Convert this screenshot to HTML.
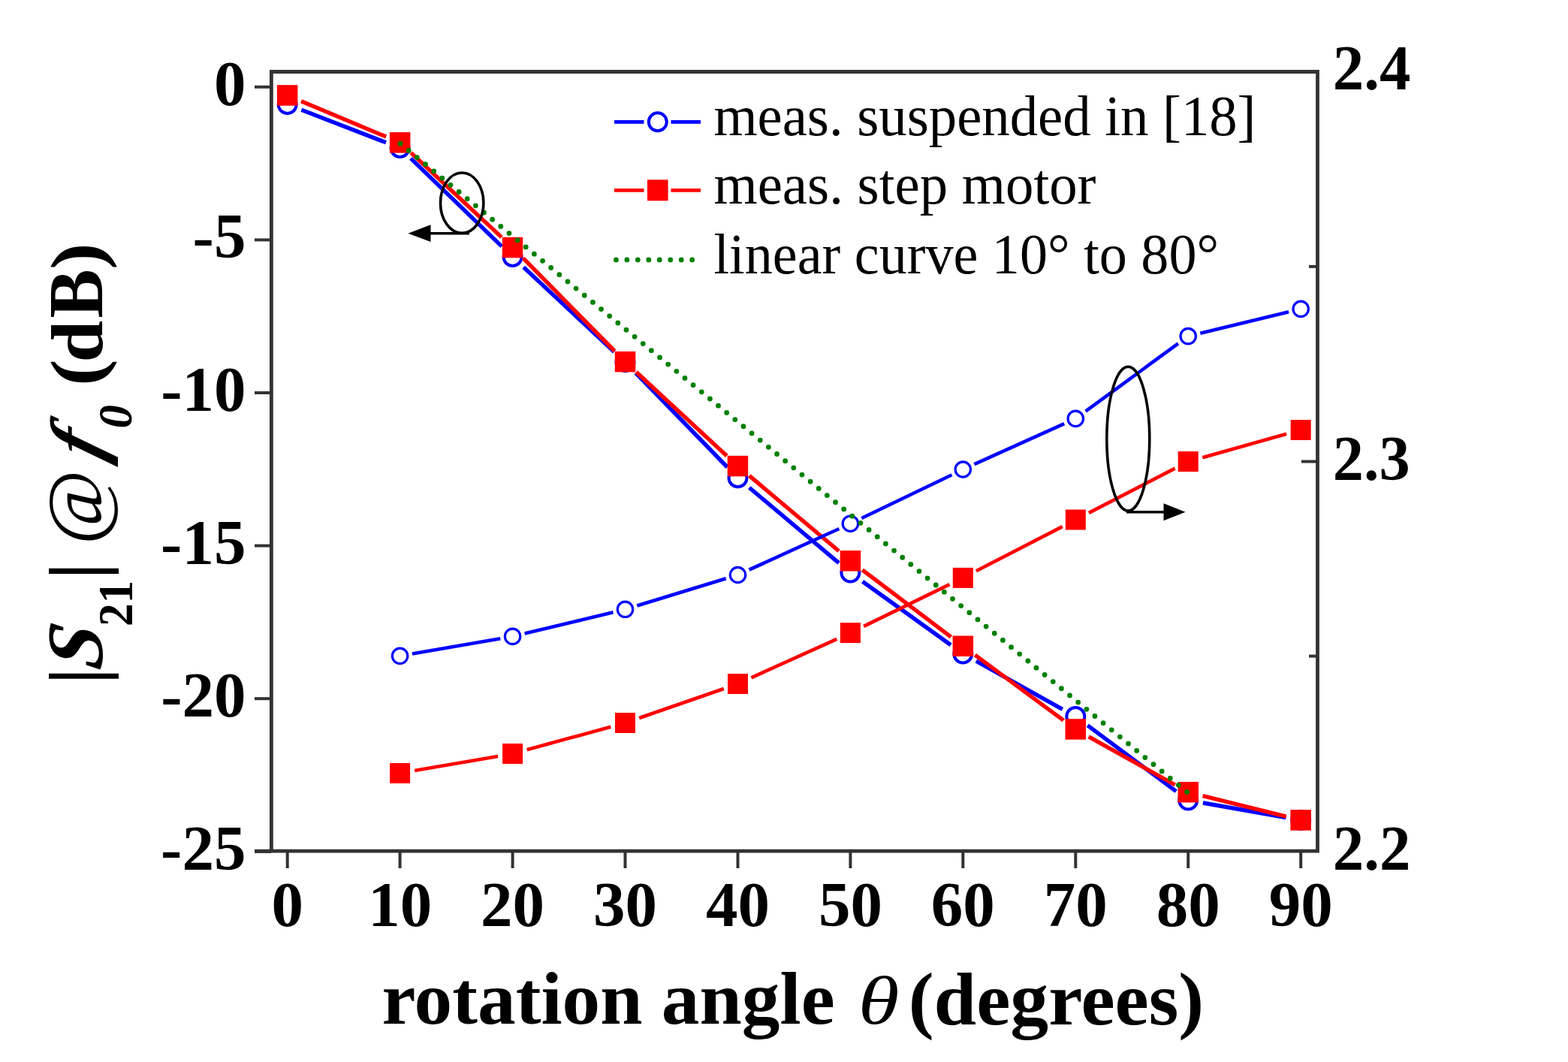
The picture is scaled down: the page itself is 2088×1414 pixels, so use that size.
<!DOCTYPE html>
<html><head><meta charset="utf-8"><title>S21 and f0 versus rotation angle</title><style>
html,body{margin:0;padding:0;background:#fff;overflow:hidden;}
svg{display:block;}
</style></head><body>
<svg width="2088" height="1414" viewBox="0 0 2088 1414">
<rect width="2088" height="1414" fill="#fff"/>
<path d="M401.4 146.2L514.0 189.8 M547.0 210.9L668.2 328.1 M697.2 355.7L817.9 468.5 M846.5 496.5L968.5 622.0 M997.8 649.2L1117.1 749.6 M1148.6 774.2L1266.1 858.8 M1299.8 880.2L1414.8 944.3 M1448.3 965.9L1566.2 1053.6 M1601.9 1069.0L1712.5 1088.5" stroke="#0000ff" stroke-width="5.4" fill="none"/>
<circle cx="382.7" cy="139.0" r="12" fill="#fff" stroke="#0000ff" stroke-width="4"/>
<circle cx="532.6" cy="197.0" r="12" fill="#fff" stroke="#0000ff" stroke-width="4"/>
<circle cx="682.6" cy="342.0" r="12" fill="#fff" stroke="#0000ff" stroke-width="4"/>
<circle cx="832.5" cy="482.2" r="12" fill="#fff" stroke="#0000ff" stroke-width="4"/>
<circle cx="982.5" cy="636.3" r="12" fill="#fff" stroke="#0000ff" stroke-width="4"/>
<circle cx="1132.4" cy="762.5" r="12" fill="#fff" stroke="#0000ff" stroke-width="4"/>
<circle cx="1282.3" cy="870.5" r="12" fill="#fff" stroke="#0000ff" stroke-width="4"/>
<circle cx="1432.3" cy="954.0" r="12" fill="#fff" stroke="#0000ff" stroke-width="4"/>
<circle cx="1582.2" cy="1065.5" r="12" fill="#fff" stroke="#0000ff" stroke-width="4"/>
<circle cx="1732.2" cy="1092.0" r="12" fill="#fff" stroke="#0000ff" stroke-width="4"/>
<path d="M401.1 134.7L514.2 182.1 M547.3 203.4L667.9 315.9 M696.6 343.7L818.5 467.5 M847.2 495.3L967.8 606.9 M997.8 633.4L1117.1 733.8 M1148.3 758.8L1266.4 848.1 M1298.4 872.1L1416.2 959.1 M1449.7 980.8L1564.8 1045.0 M1601.6 1059.6L1712.7 1087.2" stroke="#ff0000" stroke-width="5.4" fill="none"/>
<rect x="368.9" y="113.2" width="27.5" height="27.5" fill="#ff0000"/>
<rect x="518.9" y="176.1" width="27.5" height="27.5" fill="#ff0000"/>
<rect x="668.8" y="315.8" width="27.5" height="27.5" fill="#ff0000"/>
<rect x="818.8" y="467.9" width="27.5" height="27.5" fill="#ff0000"/>
<rect x="968.7" y="606.8" width="27.5" height="27.5" fill="#ff0000"/>
<rect x="1118.7" y="733.0" width="27.5" height="27.5" fill="#ff0000"/>
<rect x="1268.6" y="846.5" width="27.5" height="27.5" fill="#ff0000"/>
<rect x="1418.5" y="957.2" width="27.5" height="27.5" fill="#ff0000"/>
<rect x="1568.5" y="1041.0" width="27.5" height="27.5" fill="#ff0000"/>
<rect x="1718.4" y="1078.2" width="27.5" height="27.5" fill="#ff0000"/>
<path d="M548.9 870.5L666.3 850.2 M698.6 843.5L816.5 815.2 M848.3 806.5L966.7 770.3 M997.5 758.7L1117.4 704.0 M1147.3 690.0L1267.5 632.2 M1297.4 618.2L1417.2 564.2 M1445.6 547.7L1568.9 457.3 M1598.3 443.7L1716.1 415.2" stroke="#0000ff" stroke-width="4.6" fill="none"/>
<circle cx="532.6" cy="873.3" r="10.2" fill="#fff" stroke="#0000ff" stroke-width="3.2"/>
<circle cx="682.6" cy="847.4" r="10.2" fill="#fff" stroke="#0000ff" stroke-width="3.2"/>
<circle cx="832.5" cy="811.3" r="10.2" fill="#fff" stroke="#0000ff" stroke-width="3.2"/>
<circle cx="982.5" cy="765.5" r="10.2" fill="#fff" stroke="#0000ff" stroke-width="3.2"/>
<circle cx="1132.4" cy="697.2" r="10.2" fill="#fff" stroke="#0000ff" stroke-width="3.2"/>
<circle cx="1282.3" cy="625.0" r="10.2" fill="#fff" stroke="#0000ff" stroke-width="3.2"/>
<circle cx="1432.3" cy="557.4" r="10.2" fill="#fff" stroke="#0000ff" stroke-width="3.2"/>
<circle cx="1582.2" cy="447.6" r="10.2" fill="#fff" stroke="#0000ff" stroke-width="3.2"/>
<circle cx="1732.2" cy="411.3" r="10.2" fill="#fff" stroke="#0000ff" stroke-width="3.2"/>
<path d="M552.1 1026.1L663.1 1006.9 M701.7 998.3L813.4 967.7 M851.2 956.0L963.8 917.0 M1000.5 902.3L1114.4 850.8 M1150.2 833.9L1264.5 778.1 M1299.9 760.3L1414.7 701.1 M1449.9 682.9L1564.6 623.6 M1601.3 609.2L1713.1 577.8" stroke="#ff0000" stroke-width="4.6" fill="none"/>
<rect x="519.1" y="1016.0" width="27" height="27" fill="#ff0000"/>
<rect x="669.1" y="990.0" width="27" height="27" fill="#ff0000"/>
<rect x="819.0" y="949.0" width="27" height="27" fill="#ff0000"/>
<rect x="969.0" y="897.0" width="27" height="27" fill="#ff0000"/>
<rect x="1118.9" y="829.1" width="27" height="27" fill="#ff0000"/>
<rect x="1268.8" y="755.9" width="27" height="27" fill="#ff0000"/>
<rect x="1418.8" y="678.5" width="27" height="27" fill="#ff0000"/>
<rect x="1568.7" y="601.0" width="27" height="27" fill="#ff0000"/>
<rect x="1718.7" y="559.0" width="27" height="27" fill="#ff0000"/>
<path d="M533.1 191.2L1581.5 1055.3" stroke="#008000" stroke-width="6.8" stroke-linecap="round" stroke-dasharray="0 14.44" fill="none"/>
<g stroke="#333" stroke-width="4.8" fill="none"><path d="M361.4 95.5H1754.5V1133.2H361.4Z"/><path d="M339 1133.2H361"/></g><g stroke="#333" stroke-width="4"><path d="M339 115.8H361"/><path d="M339 319.4H361"/><path d="M339 523.0H361"/><path d="M339 726.6H361"/><path d="M339 930.2H361"/><path d="M339 1133.8H361"/><path d="M382.7 1133V1156"/><path d="M532.6 1133V1156"/><path d="M682.6 1133V1156"/><path d="M832.5 1133V1156"/><path d="M982.5 1133V1156"/><path d="M1132.4 1133V1156"/><path d="M1282.3 1133V1156"/><path d="M1432.3 1133V1156"/><path d="M1582.2 1133V1156"/><path d="M1732.2 1133V1156"/><path d="M1733 614.5H1754.5"/><path d="M1743 354.9H1754.5"/><path d="M1743 873.6H1754.5"/></g>
<text font-family="Liberation Serif, Times New Roman, serif" font-size="85" font-weight="bold" fill="#000" transform="matrix(1.0000,0.0000,0.0000,1.0000,285.0373,139.8000)">0</text>
<text font-family="Liberation Serif, Times New Roman, serif" font-size="85" font-weight="bold" fill="#000" transform="matrix(1.0000,0.0000,0.0000,1.0000,256.6071,343.4000)">-5</text>
<text font-family="Liberation Serif, Times New Roman, serif" font-size="85" font-weight="bold" fill="#000" transform="matrix(1.0000,0.0000,0.0000,1.0000,214.2316,547.0000)">-10</text>
<text font-family="Liberation Serif, Times New Roman, serif" font-size="85" font-weight="bold" fill="#000" transform="matrix(1.0000,0.0000,0.0000,1.0000,214.1071,750.6000)">-15</text>
<text font-family="Liberation Serif, Times New Roman, serif" font-size="85" font-weight="bold" fill="#000" transform="matrix(1.0000,0.0000,0.0000,1.0000,214.2316,954.2000)">-20</text>
<text font-family="Liberation Serif, Times New Roman, serif" font-size="85" font-weight="bold" fill="#000" transform="matrix(1.0000,0.0000,0.0000,1.0000,214.1071,1157.8000)">-25</text>
<text font-family="Liberation Serif, Times New Roman, serif" font-size="85" font-weight="bold" fill="#000" transform="matrix(1.0000,0.0000,0.0000,1.0000,361.4500,1232.6000)">0</text>
<text font-family="Liberation Serif, Times New Roman, serif" font-size="85" font-weight="bold" fill="#000" transform="matrix(1.0000,0.0000,0.0000,1.0000,490.1400,1232.6000)">10</text>
<text font-family="Liberation Serif, Times New Roman, serif" font-size="85" font-weight="bold" fill="#000" transform="matrix(1.0000,0.0000,0.0000,1.0000,640.0800,1232.6000)">20</text>
<text font-family="Liberation Serif, Times New Roman, serif" font-size="85" font-weight="bold" fill="#000" transform="matrix(1.0000,0.0000,0.0000,1.0000,790.0200,1232.6000)">30</text>
<text font-family="Liberation Serif, Times New Roman, serif" font-size="85" font-weight="bold" fill="#000" transform="matrix(1.0000,0.0000,0.0000,1.0000,939.9600,1232.6000)">40</text>
<text font-family="Liberation Serif, Times New Roman, serif" font-size="85" font-weight="bold" fill="#000" transform="matrix(1.0000,0.0000,0.0000,1.0000,1089.9000,1232.6000)">50</text>
<text font-family="Liberation Serif, Times New Roman, serif" font-size="85" font-weight="bold" fill="#000" transform="matrix(1.0000,0.0000,0.0000,1.0000,1239.8400,1232.6000)">60</text>
<text font-family="Liberation Serif, Times New Roman, serif" font-size="85" font-weight="bold" fill="#000" transform="matrix(1.0000,0.0000,0.0000,1.0000,1389.7800,1232.6000)">70</text>
<text font-family="Liberation Serif, Times New Roman, serif" font-size="85" font-weight="bold" fill="#000" transform="matrix(1.0000,0.0000,0.0000,1.0000,1539.7200,1232.6000)">80</text>
<text font-family="Liberation Serif, Times New Roman, serif" font-size="85" font-weight="bold" fill="#000" transform="matrix(1.0000,0.0000,0.0000,1.0000,1689.6600,1232.6000)">90</text>
<text font-family="Liberation Serif, Times New Roman, serif" font-size="85" font-weight="bold" fill="#000" transform="matrix(0.9760,0.0000,0.0000,1.0000,1774.7163,119.2000)">2.4</text>
<text font-family="Liberation Serif, Times New Roman, serif" font-size="85" font-weight="bold" fill="#000" transform="matrix(0.9680,0.0000,0.0000,1.0000,1774.7449,638.6000)">2.3</text>
<text font-family="Liberation Serif, Times New Roman, serif" font-size="85" font-weight="bold" fill="#000" transform="matrix(0.9760,0.0000,0.0000,1.0000,1774.7163,1157.8000)">2.2</text>
<path d="M818 162.3H857.5M893.5 162.3H933" stroke="#0000ff" stroke-width="4.8"/>
<circle cx="875.8" cy="162.3" r="12" fill="#fff" stroke="#0000ff" stroke-width="4"/>
<path d="M818 253.3H857.5M893.5 253.3H933" stroke="#ff0000" stroke-width="4.8"/>
<rect x="862" y="239.3" width="27.6" height="28" fill="#ff0000"/>
<path d="M820.4 345.9H922" stroke="#008000" stroke-width="6.8" stroke-linecap="round" stroke-dasharray="0 14.47" fill="none"/>
<text font-family="Liberation Serif, Times New Roman, serif" font-size="77" fill="#000" transform="matrix(0.9704,0.0000,0.0000,1.0000,950.4311,179.8000)">meas. suspended in [18]</text>
<text font-family="Liberation Serif, Times New Roman, serif" font-size="77" fill="#000" transform="matrix(0.9720,0.0000,0.0000,1.0000,950.4286,271.2000)">meas. step motor</text>
<text font-family="Liberation Serif, Times New Roman, serif" font-size="77" fill="#000" transform="matrix(0.9627,0.0000,0.0000,1.0000,950.5161,363.5000)">linear curve 10° to 80°</text>
<g stroke="#000" stroke-width="3.6" fill="none">
<ellipse cx="615.2" cy="270.2" rx="28.7" ry="40.2"/>
<path d="M573 310.7H625"/>
<ellipse cx="1502.3" cy="584.2" rx="28.5" ry="95.9"/>
<path d="M1500 681.8H1552"/>
</g>
<path d="M543.5 310.7L573.5 299.3L573.5 322.1Z" fill="#000"/>
<path d="M1578.5 681.8L1549.5 670.3L1549.5 693.3Z" fill="#000"/>
<text font-family="Liberation Serif, Times New Roman, serif" font-size="100" font-weight="bold" fill="#000" transform="matrix(1.0132,0.0000,0.0000,0.9907,508.4790,1362.7360)">rotation angle</text>
<text font-family="Liberation Serif, Times New Roman, serif" font-size="100" font-style="italic" fill="#000" transform="matrix(1.1147,0.0000,0.0000,0.9126,1142.7571,1362.5088)">θ</text>
<text font-family="Liberation Serif, Times New Roman, serif" font-size="100" font-weight="bold" fill="#000" transform="matrix(1.0172,0.0000,0.0000,0.9939,1209.7301,1363.8636)">(degrees)</text>
<text font-family="Liberation Serif, Times New Roman, serif" font-size="102" font-weight="bold" fill="#000" transform="matrix(0.0000,-0.9829,0.9980,0.0000,135.8305,911.1385)">|</text>
<text font-family="Liberation Serif, Times New Roman, serif" font-size="102" font-weight="bold" font-style="italic" fill="#000" transform="matrix(0.0000,-1.0205,1.0448,0.1633,135.9593,893.7952)">S</text>
<text font-family="Liberation Serif, Times New Roman, serif" font-size="62" font-weight="bold" fill="#000" transform="matrix(0.0000,-0.9860,1.0402,0.0000,175.5000,833.9670)">21</text>
<text font-family="Liberation Serif, Times New Roman, serif" font-size="102" font-weight="bold" fill="#000" transform="matrix(0.0000,-1.0109,0.9958,0.0000,135.8779,771.7538)">|</text>
<text font-family="Liberation Serif, Times New Roman, serif" font-size="102" font-style="italic" fill="#000" transform="matrix(0.0000,-1.0635,1.0446,0.0000,136.5622,725.8559)">@</text>
<text font-family="Liberation Serif, Times New Roman, serif" font-size="102" font-weight="bold" font-style="italic" fill="#000" transform="matrix(0.0000,-1.0021,0.9676,0.2906,135.7894,615.6895)">f</text>
<text font-family="Liberation Serif, Times New Roman, serif" font-size="62" font-weight="bold" font-style="italic" fill="#000" transform="matrix(0.0000,-1.0158,1.0134,0.0000,174.5864,570.3834)">0</text>
<text font-family="Liberation Serif, Times New Roman, serif" font-size="102" font-weight="bold" fill="#000" transform="matrix(0.0000,-1.0500,0.9634,0.0000,135.0805,513.9101)">(</text>
<text font-family="Liberation Serif, Times New Roman, serif" font-size="102" font-weight="bold" fill="#000" transform="matrix(0.0000,-0.9816,0.9628,0.0000,135.7409,482.4576)">d</text>
<text font-family="Liberation Serif, Times New Roman, serif" font-size="102" font-weight="bold" fill="#000" transform="matrix(0.0000,-0.9590,1.0076,0.0000,135.6989,423.5240)">B</text>
<text font-family="Liberation Serif, Times New Roman, serif" font-size="102" font-weight="bold" fill="#000" transform="matrix(0.0000,-1.0500,0.9634,0.0000,135.0805,358.9550)">)</text>
</svg>
</body></html>
